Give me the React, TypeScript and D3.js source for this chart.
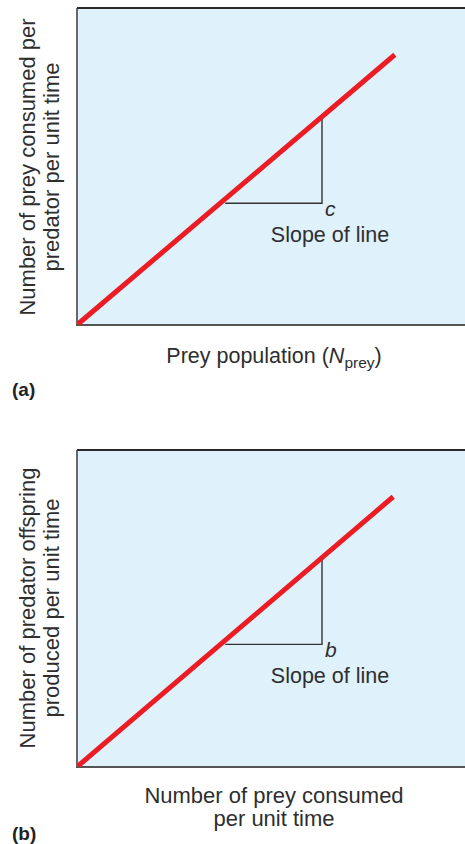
import React from "react";
import * as d3 from "d3";

const W = 465;
const H = 844;

// Panel data (conceptual units 0-100)
const panelIds = ["a", "b"];
const panelTops = [8, 450];
const lineStartX = [0, 0];
const lineStartY = [0, 0];
const lineEndX = [79.2, 78.8];
const lineEndY = [85.2, 85.2];
const triLeftX = [36.8, 36.8];
const triRightX = [61, 61];
const triBaseY = [38.2, 38.5];
const slopeSymbols = ["c", "b"];
const yLabels = [
  ["Number of prey consumed per", "predator per unit time"],
  ["Number of predator offspring", "produced per unit time"],
];
const yLabelCenters = [167, 608];

const FONT = "'Liberation Sans', Arial, Helvetica, sans-serif";
const TEXT = "#2e2e2e";
const RED = "#ec1c24";
const FILL = "#dff1fb";

function Panel({ i }: { i: number }) {
  const top = panelTops[i];
  const bottom = top + 317;
  const x = d3.scaleLinear().domain([0, 100]).range([78, 478]);
  const y = d3.scaleLinear().domain([0, 100]).range([bottom - 1, top]);
  const line = d3
    .line<[number, number]>()
    .x((d) => x(d[0]))
    .y((d) => y(d[1]));
  const pts: [number, number][] = [
    [lineStartX[i], lineStartY[i]],
    [lineEndX[i], lineEndY[i]],
  ];
  const slope = (lineEndY[i] - lineStartY[i]) / (lineEndX[i] - lineStartX[i]);
  const triTopY = lineStartY[i] + slope * (triRightX[i] - lineStartX[i]);
  const tri: [number, number][] = [
    [triLeftX[i], triBaseY[i]],
    [triRightX[i], triBaseY[i]],
    [triRightX[i], triTopY],
  ];
  const cx = x(triRightX[i]);
  const cy = y(triBaseY[i]);
  return (
    <g>
      <rect x={77} y={top} width={W} height={bottom - top} fill={FILL} />
      <line x1={77} x2={W} y1={top} y2={top} stroke="#2a2a2a" strokeWidth={2} />
      <line x1={77} x2={77} y1={top} y2={bottom} stroke="#3a3a3a" strokeWidth={1.5} />
      <line x1={76} x2={W} y1={bottom} y2={bottom} stroke="#555" strokeWidth={2.2} />
      <path d={line(tri) || ""} fill="none" stroke="#333" strokeWidth={1.4} />
      <path d={line(pts) || ""} fill="none" stroke={RED} strokeWidth={5} strokeLinecap="butt" />
      <text
        x={cx + 3}
        y={cy + 13}
        fontFamily={FONT}
        fontStyle="italic"
        fontSize={21}
        fill={TEXT}
      >
        {slopeSymbols[i]}
      </text>
      <text
        x={cx + 8}
        y={cy + 39}
        textAnchor="middle"
        fontFamily={FONT}
        fontSize={21.5}
        fill={TEXT}
      >
        Slope of line
      </text>
      <g transform={`translate(35, ${yLabelCenters[i]}) rotate(-90)`}>
        <text x={0} y={0} textAnchor="middle" fontFamily={FONT} fontSize={22} fill={TEXT}>
          {yLabels[i][0]}
        </text>
        <text x={0} y={24} textAnchor="middle" fontFamily={FONT} fontSize={22} fill={TEXT}>
          {yLabels[i][1]}
        </text>
      </g>
    </g>
  );
}

export default function App() {
  return (
    <svg
      width={W}
      height={H}
      style={{ position: "absolute", left: 0, top: 0, background: "#fff" }}
    >
      <Panel i={0} />
      <Panel i={1} />
      <text x={274} y={363} textAnchor="middle" fontFamily={FONT} fontSize={21.5} fill={TEXT}>
        Prey population (
        <tspan fontStyle="italic">N</tspan>
        <tspan fontSize={15.5} dy={5}>prey</tspan>
        <tspan dy={-5}>)</tspan>
      </text>
      <text x={274} y={803} textAnchor="middle" fontFamily={FONT} fontSize={22} fill={TEXT}>
        Number of prey consumed
      </text>
      <text x={274} y={826} textAnchor="middle" fontFamily={FONT} fontSize={22} fill={TEXT}>
        per unit time
      </text>
      <text x={12} y={396} fontFamily={FONT} fontWeight="bold" fontSize={19} fill="#222">
        ({panelIds[0]})
      </text>
      <text x={12} y={840} fontFamily={FONT} fontWeight="bold" fontSize={19} fill="#222">
        ({panelIds[1]})
      </text>
    </svg>
  );
}
